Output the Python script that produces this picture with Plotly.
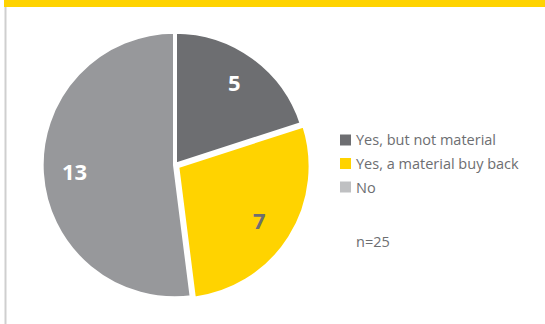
import math
import plotly.graph_objects as go

# Share of companies answering the buy-back question
categories = ["Yes, but not material", "Yes, a material buy back", "No"]
counts = [5, 7, 13]
slice_colors = ["#6D6E71", "#FFD300", "#97989B"]
legend_colors = ["#6D6E71", "#FFD300", "#BFC0C2"]
label_colors = ["#FFFFFF", "#6D6E71", "#FFFFFF"]
sample_note = "n=25"

W, H = 545, 324
CX, CY, R = 175, 165, 136   # pie centre and radius in pixels

fig = go.Figure()

fig.add_trace(go.Pie(
    labels=categories,
    values=counts,
    sort=False,
    direction="clockwise",
    rotation=0,
    marker=dict(colors=slice_colors, line=dict(color="#FFFFFF", width=4)),
    textinfo="none",
    pull=[0, 0.02, 0],
    showlegend=False,
    hoverinfo="label+value",
    domain=dict(x=[(CX - R) / W, (CX + R) / W],
                y=[(H - CY - R) / H, (H - CY + R) / H]),
))

# Value labels placed along each slice's bisector
total = sum(counts)
start = 0.0
for v, col in zip(counts, label_colors):
    sweep = 360.0 * v / total
    mid = math.radians(start + sweep / 2)
    start += sweep
    px = CX + 0.74 * R * math.sin(mid)
    py = CY - 0.75 * R * math.cos(mid)
    fig.add_annotation(
        text=str(v), x=px / W, y=1 - py / H, xref="paper", yref="paper",
        xanchor="center", yanchor="middle", showarrow=False,
        font=dict(family="Open Sans", size=22, color=col, weight="bold"),
    )

# Key: coloured squares with their category names
LEG_X, LEG_Y0, LEG_DY, SQ = 340, 140, 23.5, 11
for i, (name, col) in enumerate(zip(categories, legend_colors)):
    yc = LEG_Y0 + i * LEG_DY
    fig.add_shape(type="rect", xref="paper", yref="paper",
                  x0=LEG_X / W, x1=(LEG_X + SQ) / W,
                  y0=1 - (yc + SQ / 2) / H, y1=1 - (yc - SQ / 2) / H,
                  fillcolor=col, line=dict(width=0))
    fig.add_annotation(
        text=name, x=(LEG_X + SQ + 3) / W, y=1 - yc / H,
        xref="paper", yref="paper", xanchor="left", yanchor="middle",
        showarrow=False,
        font=dict(family="Open Sans", size=14.5, color="#6D6E71"),
    )

fig.add_annotation(
    text=sample_note, x=354 / W, y=1 - 241 / H, xref="paper", yref="paper",
    xanchor="left", yanchor="middle", showarrow=False,
    font=dict(family="Open Sans", size=14.5, color="#6D6E71"),
)

# Yellow header band and left frame rule
fig.add_shape(type="rect", xref="paper", yref="paper",
              x0=4 / W, x1=1, y0=1 - 7 / H, y1=1,
              fillcolor="#FFD300", line=dict(width=0), layer="below")
fig.add_shape(type="line", xref="paper", yref="paper",
              x0=5.5 / W, x1=5.5 / W, y0=0, y1=1 - 7 / H,
              line=dict(color="#CFCFCF", width=2), layer="below")

fig.update_layout(
    width=W, height=H,
    margin=dict(l=0, r=0, t=0, b=0),
    paper_bgcolor="#FFFFFF",
    plot_bgcolor="#FFFFFF",
    showlegend=False,
)

fig.write_html("out.html")
